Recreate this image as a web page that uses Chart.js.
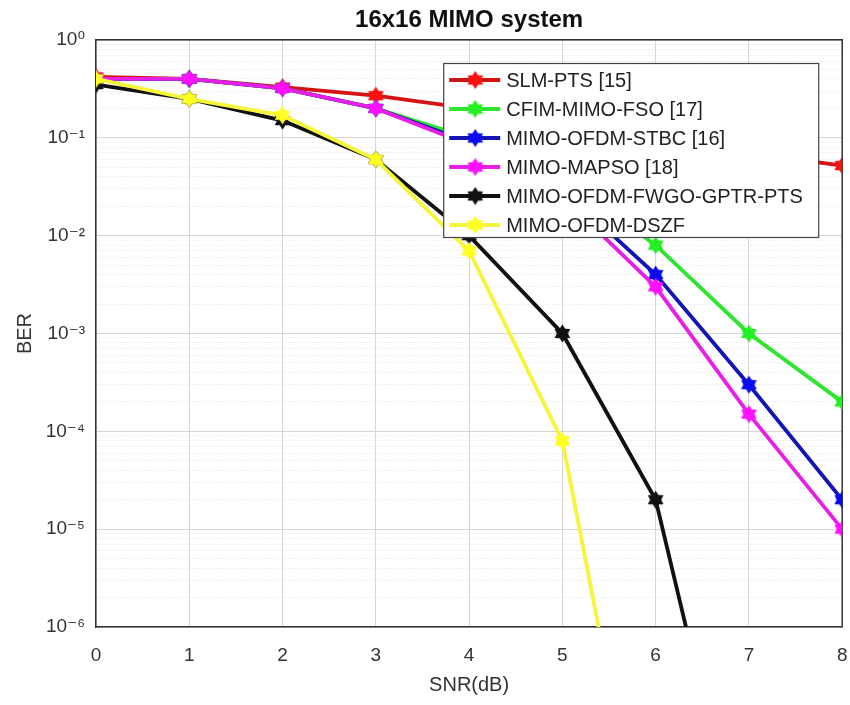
<!DOCTYPE html>
<html>
<head>
<meta charset="utf-8">
<script src="https://cdn.jsdelivr.net/npm/chart.js@4.4.0/dist/chart.umd.min.js"></script>
<style>
html, body { margin: 0; padding: 0; background: #fff; overflow: hidden; }
#wrap { width: 854px; height: 705px; }
</style>
</head>
<body>
<div id="wrap"><canvas id="ber-chart"></canvas></div>
<script>
// data
var snr = [0, 1, 2, 3, 4, 5, 6, 7, 8];
var seriesNames = ["SLM-PTS [15]", "CFIM-MIMO-FSO [17]", "MIMO-OFDM-STBC [16]",
                   "MIMO-MAPSO [18]", "MIMO-OFDM-FWGO-GPTR-PTS", "MIMO-OFDM-DSZF"];
var slmPts   = [0.42, 0.40, 0.33, 0.27, 0.20, 0.14, 0.10, 0.07, 0.052];
var cfimFso  = [0.40, 0.40, 0.32, 0.20, 0.10, 0.04, 0.008, 0.001, 0.0002];
var ofdmStbc = [0.40, 0.40, 0.32, 0.20, 0.09, 0.03, 0.004, 0.0003, 0.00002];
var mapso    = [0.40, 0.40, 0.32, 0.20, 0.085, 0.025, 0.003, 0.00015, 0.00001];
var fwgoPts  = [0.35, 0.25, 0.15, 0.06, 0.01, 0.001, 0.00002, 2e-9, null];
var dszf     = [0.40, 0.25, 0.17, 0.06, 0.007, 0.00008, 1e-9, null, null];
var yMinExp = -6, yMaxExp = 0;

var supMap = {"0":"\u2070","1":"\u00b9","2":"\u00b2","3":"\u00b3","4":"\u2074",
              "5":"\u2075","6":"\u2076","7":"\u2077","8":"\u2078","9":"\u2079","-":"\u207b"};

function isDecade(v) {
    var e = Math.round(Math.log10(v));
    return Math.abs(v / Math.pow(10, e) - 1) < 1e-6;
}

// filled hexagram marker, like matlab's 'h'
function makeStar(color) {
    var c = document.createElement("canvas");
    c.width = 19; c.height = 19;
    var g = c.getContext("2d");
    g.fillStyle = color;
    g.beginPath();
    for (var k = 0; k < 12; k++) {
        var r = (k % 2 === 0) ? 9 : 5.6;
        var a = -Math.PI / 2 + k * Math.PI / 6;
        var px = 9.5 + r * Math.cos(a), py = 9.5 + r * Math.sin(a);
        if (k === 0) g.moveTo(px, py); else g.lineTo(px, py);
    }
    g.closePath();
    g.fill();
    return c;
}

function pts(vals) {
    return snr.map(function (x, i) { return { x: x, y: vals[i] }; });
}

function series(label, vals, lineColor, markColor, order) {
    return {
        label: label,
        data: pts(vals),
        borderColor: lineColor,
        backgroundColor: markColor,
        borderWidth: 3.8,
        pointStyle: makeStar(markColor),
        pointRadius: 8,
        tension: 0,
        spanGaps: false,
        order: order
    };
}

// right-hand frame line (matlab box on)
var frameRight = {
    id: "frameRight",
    beforeDatasetsDraw: function (chart) {
        var ctx = chart.ctx, a = chart.chartArea;
        ctx.save();
        ctx.strokeStyle = "#333";
        ctx.lineWidth = 1.5;
        ctx.beginPath();
        ctx.moveTo(a.right, a.top);
        ctx.lineTo(a.right, a.bottom);
        ctx.stroke();
        ctx.restore();
    }
};

// legend box drawn inside the axes, top right
var boxLegend = {
    id: "boxLegend",
    afterDatasetsDraw: function (chart) {
        var ctx = chart.ctx, area = chart.chartArea;
        var w = 375, h = 174;
        var x0 = area.right - 24 - w, y0 = area.top + 23;
        ctx.save();
        ctx.fillStyle = "#fff";
        ctx.fillRect(x0, y0, w, h);
        ctx.strokeStyle = "#444";
        ctx.lineWidth = 1.2;
        ctx.strokeRect(x0 + 0.5, y0 + 0.5, w, h);
        chart.data.datasets.forEach(function (ds, i) {
            var y = y0 + 17 + i * 29;
            ctx.strokeStyle = ds.borderColor;
            ctx.lineWidth = ds.borderWidth;
            ctx.beginPath();
            ctx.moveTo(x0 + 6, y);
            ctx.lineTo(x0 + 57, y);
            ctx.stroke();
            var img = ds.pointStyle;
            ctx.drawImage(img, x0 + 32 - img.width / 2, y - img.height / 2);
            ctx.fillStyle = "#222";
            ctx.font = '20px "Liberation Sans", Arial, sans-serif';
            ctx.textBaseline = "middle";
            ctx.fillText(ds.label, x0 + 63, y + 1);
        });
        ctx.restore();
    }
};

var tickFont = { family: '"Liberation Sans", "DejaVu Sans", sans-serif', size: 19 };

var ctx1 = document.getElementById("ber-chart");

var chart1 = new Chart(ctx1, {
    type: "line",
    data: {
        datasets: [
            series(seriesNames[0], slmPts,   "#d41414", "#ff1010", 6),
            series(seriesNames[1], cfimFso,  "#2ee62e", "#22f022", 5),
            series(seriesNames[2], ofdmStbc, "#1414b4", "#0a0aee", 4),
            series(seriesNames[3], mapso,    "#e61ee6", "#ff10ff", 3),
            series(seriesNames[4], fwgoPts,  "#111111", "#111111", 2),
            series(seriesNames[5], dszf,     "#f5f53c", "#ffff22", 1)
        ]
    },
    options: {
        responsive: true,
        maintainAspectRatio: false,
        animation: false,
        layout: { padding: { left: 0, right: 8, top: 0, bottom: 0 } },
        plugins: {
            legend: { display: false },
            tooltip: { enabled: false },
            title: { display: false }
        },
        scales: {
            x: {
                type: "linear",
                position: "bottom",
                min: 0,
                max: 8,
                ticks: { stepSize: 1, color: "#333", font: tickFont, padding: 3 },
                grid: { color: "#d6d6d6", lineWidth: 1, drawTicks: true, tickLength: 14, tickColor: "rgba(0,0,0,0)" },
                border: { color: "#333", width: 1.5 },
                title: {
                    display: true,
                    text: "SNR(dB)",
                    color: "#333",
                    font: { family: '"Liberation Sans", Arial, sans-serif', size: 20 },
                    padding: { top: 4, bottom: 8 }
                },
                afterFit: function (scale) { scale.height = 78; }
            },
            x2: {
                type: "linear",
                position: "top",
                min: 0,
                max: 8,
                ticks: { display: false },
                grid: { display: false, drawTicks: false },
                border: { color: "#333", width: 1.5 },
                title: {
                    display: true,
                    text: "16x16 MIMO system",
                    color: "#111",
                    font: { family: '"Liberation Sans", Arial, sans-serif', size: 24, weight: "bold" },
                    padding: { top: 6, bottom: 0 }
                },
                afterFit: function (scale) { scale.height = 40; }
            },
            y: {
                type: "logarithmic",
                position: "left",
                min: Math.pow(10, yMinExp),
                max: Math.pow(10, yMaxExp),
                afterBuildTicks: function (scale) {
                    var t = [];
                    for (var e = yMinExp; e <= yMaxExp; e++) {
                        for (var m = 1; m <= 9; m++) {
                            if (e === yMaxExp && m > 1) break;
                            t.push({ value: m * Math.pow(10, e) });
                        }
                    }
                    scale.ticks = t;
                },
                ticks: {
                    autoSkip: false,
                    color: "#333",
                    font: tickFont,
                    padding: 11,
                    callback: function (v) {
                        if (!isDecade(v)) return "";
                        var e = String(Math.round(Math.log10(v)));
                        return "10" + e.split("").map(function (ch) { return supMap[ch]; }).join("");
                    }
                },
                grid: {
                    drawTicks: false,
                    lineWidth: 1,
                    color: function (c) {
                        if (!c.tick) return "#d6d6d6";
                        return isDecade(c.tick.value) ? "#d6d6d6" : "#e2e2e2";
                    }
                },
                border: {
                    color: "#333",
                    width: 1.5,
                    dash: function (c) {
                        if (!c.tick) return [];
                        return isDecade(c.tick.value) ? [] : [1, 2];
                    }
                },
                title: {
                    display: true,
                    text: "BER",
                    color: "#333",
                    font: { family: '"Liberation Sans", Arial, sans-serif', size: 20 },
                    padding: { top: 13, bottom: 4 }
                },
                afterFit: function (scale) { scale.width = 96; }
            }
        }
    },
    plugins: [frameRight, boxLegend]
});
</script>
</body>
</html>
